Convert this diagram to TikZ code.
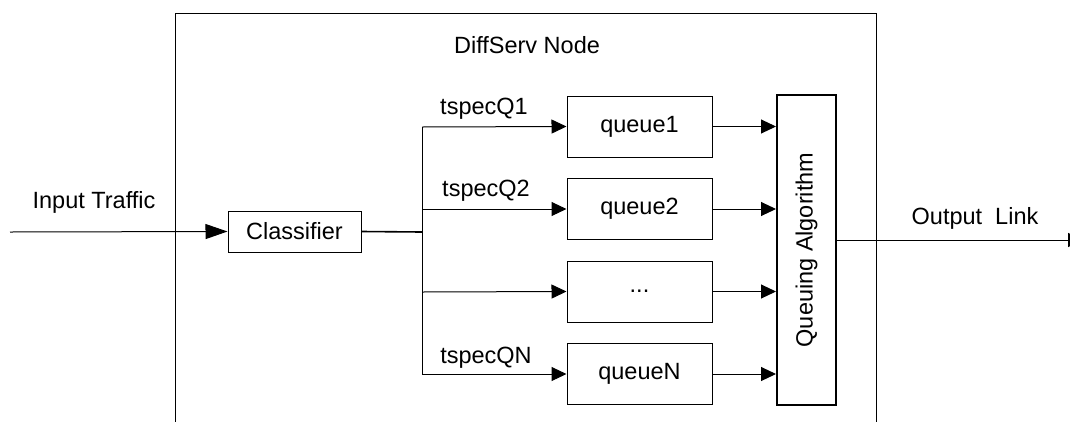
\documentclass[tikz,border=0pt]{standalone}
\usepackage{fontspec}
\setmainfont{Liberation Sans}
\usetikzlibrary{arrows.meta}
\begin{document}
\begin{tikzpicture}[x=1pt,y=-1pt,
  line width=1pt,
  every node/.style={font=\fontsize{23.5}{28}\selectfont, inner sep=0pt},
  box/.style={draw, line width=1pt, minimum width=145pt, minimum height=61pt},
  flow/.style={-{Triangle[length=15pt,width=14pt]}},
  bigflow/.style={-{Triangle[length=22pt,width=15pt]}},
  lbl/.style={anchor=center}]
\useasboundingbox (0,0) rectangle (1070,421);

% node boundary (open at the bottom)
\draw (175,430) -- (175,13) -- (876,13) -- (876,430);
\node[lbl] (title) at (527,45) {DiffServ Node};

% classifier
\coordinate (in) at (10,232);
\node[draw, minimum width=133pt, minimum height=41pt] (cls) at (294.5,231.5) {Classifier};
\node[lbl] (inlbl) at (94,202) {Input Traffic};
\draw[bigflow] (in) -- (cls.west);

% fan-out trunk
\coordinate (j0) at (422,232);
\coordinate (j1) at (422,127);
\coordinate (j2) at (422,209);
\coordinate (j3) at (422,292);
\coordinate (j4) at (422,374);
\draw[line width=1.6pt] (cls.east) -- (j0);
\draw (j1) -- (j4);

% queues
\node[box] (q1) at (639.5,126.5) {queue1};
\node[box] (q2) at (639.5,209) {queue2};
\node[box] (q3) at (639.5,291.5) {...};
\node[box] (qn) at (639.5,374) {queueN};

\draw[flow] (j1) -- (q1.west);
\draw[flow] (j2) -- (q2.west);
\draw[flow] (j3) -- (q3.west);
\draw[flow] (j4) -- (qn.west);

\node[lbl] (t1) at (484,109) {tspecQ1};
\node[lbl] (t2) at (486,191) {tspecQ2};
\node[lbl] (tn) at (486,358) {tspecQN};

% scheduler
\node[draw, line width=2pt, minimum width=59pt, minimum height=310pt] (alg) at (806.5,250) {};
\node[rotate=90] (algtxt) at (alg.center) {Queuing Algorithm};

\draw[flow] (q1.east) -- (q1.east -| alg.west);
\draw[flow] (q2.east) -- (q2.east -| alg.west);
\draw[flow] (q3.east) -- (q3.east -| alg.west);
\draw[flow] (qn.east) -- (qn.east -| alg.west);

% output
\coordinate (out) at (1083,240);
\draw[flow] (alg.east |- out) -- (out);
\node[lbl] (outlbl) at (975,218) {Output\ \ Link};
\end{tikzpicture}
\end{document}
